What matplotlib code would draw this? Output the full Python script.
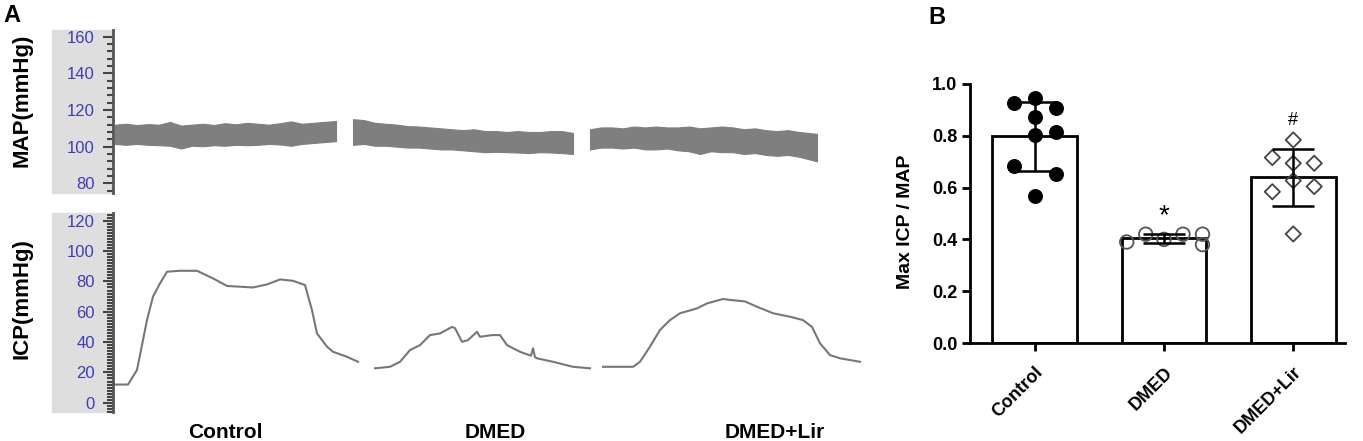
import numpy as np
import matplotlib
matplotlib.use("Agg")
import matplotlib.pyplot as plt
from matplotlib.patches import Rectangle
from matplotlib.ticker import MultipleLocator, FormatStrFormatter

plt.rcParams['font.family'] = ['Liberation Sans', 'DejaVu Sans']

# ---- panel A: MAP traces (upper / lower envelope of the pulsatile band) ----
map_ctrl_t = [2, 13, 24, 35, 46, 57, 68, 79, 90, 101, 112, 123, 134, 145, 156, 167, 178, 189, 200, 211, 223]
map_ctrl_hi = [112, 112.5, 111.8, 112.3, 112, 113.5, 111.5, 112, 112.5, 111.8, 112.8, 112.2, 113, 112.5, 112, 112.8, 113.8, 112.5, 113, 113.5, 114]
map_ctrl_lo = [101.5, 101, 101.5, 101, 100.8, 100.5, 99, 100.5, 100.2, 100.8, 100.5, 101, 100.8, 101, 101.5, 101.2, 100.5, 101.5, 102, 102.5, 103]

map_dmed_t = [240, 251, 262, 273, 284, 295, 306, 317, 328, 339, 350, 361, 372, 383, 394, 405, 416, 427, 438, 449, 460]
map_dmed_hi = [115, 114.5, 113, 112.5, 112, 111.2, 111, 110.5, 110, 109.5, 109, 109.5, 108.5, 108.5, 108, 108.5, 108, 108, 108.5, 108.5, 107.5]
map_dmed_lo = [101, 101.5, 100.5, 100.5, 100, 99.5, 99.5, 99, 98.5, 98.5, 98, 97.5, 97, 97.2, 97, 96.8, 96.5, 97, 96.8, 96.5, 96]

map_lir_t = [477, 488, 499, 510, 521, 532, 543, 554, 565, 576, 587, 598, 609, 620, 631, 642, 653, 664, 675, 686, 704]
map_lir_hi = [109.5, 110.5, 110.5, 110, 111, 110.5, 111, 110.5, 110.5, 111, 110, 110.5, 111, 110.5, 109.5, 110, 109, 108.5, 109, 108, 107]
map_lir_lo = [98.5, 99.5, 99.5, 99, 99.5, 98.5, 98.5, 99, 98, 97.5, 96, 97.5, 97, 97, 96, 96.5, 95.5, 95, 95.5, 94.5, 92]

# ---- panel A: ICP traces ----
icp_ctrl_t = [2, 15, 24, 34, 40, 47, 54, 67, 84, 100, 114, 140, 154, 167, 180, 192, 199, 204, 214, 220, 234, 245]
icp_ctrl = [12, 12, 21.6, 54.5, 70, 78.7, 86.4, 87, 87, 82, 77, 76, 78, 81.3, 80.4, 77.6, 61, 45.7, 37, 33.6, 30.3, 27]

icp_dmed_t = [262, 277, 287, 297, 307, 317, 327, 339, 342, 349, 355, 364, 367, 379, 387, 394, 407, 418, 420, 422, 424, 440, 460, 477]
icp_dmed = [22.7, 23.7, 27, 34.7, 38, 44.6, 45.7, 50, 49.2, 40.2, 41.3, 46.8, 43.5, 44.6, 44.6, 38, 33.6, 31, 35.9, 30, 29.3, 27, 23.7, 22.7]

icp_lir_t = [490, 520, 527, 537, 547, 557, 567, 584, 594, 610, 617, 632, 644, 660, 677, 690, 699, 707, 717, 727, 747]
icp_lir = [23.7, 23.7, 27, 37, 48, 54.5, 59, 62.2, 65.5, 68.4, 67.8, 66.8, 63.3, 59, 56.7, 54.5, 50, 39.2, 31.4, 29.3, 27]

group_names = ["Control", "DMED", "DMED+Lir"]

# ---- panel B: Max ICP / MAP per animal ----
ratio_ctrl = [0.928, 0.947, 0.906, 0.874, 0.803, 0.814, 0.685, 0.653, 0.568]
ratio_dmed = [0.39, 0.42, 0.40, 0.42, 0.42, 0.38]
ratio_lir = [0.784, 0.716, 0.694, 0.694, 0.627, 0.584, 0.604, 0.421]

jit_ctrl = [-1, 0, 1, 0, 0, 1, -1, 1, 0]
jit_dmed = [-0.288, -0.141, 0, 0.147, 0.298, 0.298]
jit_lir = [0, -1, 0, 1, 0, -1, 1, 0]

W, H = 1363, 441
fig = plt.figure(figsize=(W / 100, H / 100), dpi=100)

tick_col = '#3d3db5'
axis_col = '#555555'

# grey label strips behind tick labels
for top, bot in [(30, 193), (213, 412)]:
    fig.patches.append(Rectangle((52 / W, 1 - bot / H), 61 / W, (bot - top) / H,
                                 transform=fig.transFigure, color='#dedede', zorder=-5))

axMAP = fig.add_axes([113 / W, 1 - 193 / H, 750 / W, 163 / H])
axICP = fig.add_axes([113 / W, 1 - 412 / H, 750 / W, 199 / H])

for t, hi, lo in [(map_ctrl_t, map_ctrl_hi, map_ctrl_lo),
                  (map_dmed_t, map_dmed_hi, map_dmed_lo),
                  (map_lir_t, map_lir_hi, map_lir_lo)]:
    axMAP.fill_between(t, lo, hi, color='#7f7f7f', lw=0.8, edgecolor='#7f7f7f')

for t, v in [(icp_ctrl_t, icp_ctrl), (icp_dmed_t, icp_dmed), (icp_lir_t, icp_lir)]:
    axICP.plot(t, v, color='#777777', lw=1.5)

axMAP.set_ylim(74.7, 163.7)
axMAP.yaxis.set_major_locator(MultipleLocator(20))
axMAP.yaxis.set_minor_locator(MultipleLocator(4))
axICP.set_ylim(-6.1, 125.1)
axICP.yaxis.set_major_locator(MultipleLocator(20))
axICP.yaxis.set_minor_locator(MultipleLocator(2))

for ax, lab in [(axMAP, 'MAP(mmHg)'), (axICP, 'ICP(mmHg)')]:
    ax.set_xlim(0, 750)
    ax.patch.set_alpha(0)
    for s in ['top', 'right', 'bottom']:
        ax.spines[s].set_visible(False)
    ax.spines['left'].set_color(axis_col)
    ax.spines['left'].set_linewidth(2)
    ax.set_xticks([])
    ax.tick_params(axis='y', which='major', length=7, width=1.5, color='#444444',
                   labelcolor=tick_col, labelsize=12, pad=6)
    ax.tick_params(axis='y', which='minor', length=4, width=1.5, color='#444444')
    ax.set_ylabel(lab, fontsize=16, fontweight='bold')

axMAP.yaxis.set_label_coords(-(113 - 32) / 750, (193 - 100) / 163)
axICP.yaxis.set_label_coords(-(113 - 32) / 750, (412 - 299) / 199)

for name, xp in zip(group_names, [225, 495, 775]):
    fig.text(xp / W, 1 - 432 / H, name, ha='center', va='center',
             fontsize=15, fontweight='bold')

fig.text(12 / W, 1 - 16 / H, 'A', ha='center', va='center', fontsize=17, fontweight='bold')
fig.text(937 / W, 1 - 18 / H, 'B', ha='center', va='center', fontsize=17, fontweight='bold')

# ---- panel B ----
axB = fig.add_axes([970 / W, 1 - 343 / H, 375 / W, 259 / H])
groups = [ratio_ctrl, ratio_dmed, ratio_lir]
means = [np.mean(g) for g in groups]
sds = [np.std(g, ddof=1) for g in groups]
xpos = np.arange(3)

axB.bar(xpos, means, width=0.656, color='white', edgecolor='black', linewidth=2, zorder=1)
axB.errorbar(xpos, means, yerr=sds, fmt='none', ecolor='black', elinewidth=1.8,
             capsize=15, capthick=1.8, zorder=4)

axB.scatter(0 + np.array(jit_ctrl) * 0.162, ratio_ctrl, s=95, color='black', zorder=3)
axB.scatter(1 + np.array(jit_dmed), ratio_dmed, s=95, facecolor='none',
            edgecolor='#555555', linewidth=1.3, zorder=3)
axB.scatter(2 + np.array(jit_lir) * 0.162, ratio_lir, s=60, marker='D', facecolor='none',
            edgecolor='#444444', linewidth=1.3, zorder=3)

axB.text(1, 0.49, '*', ha='center', va='center', fontsize=20)
axB.text(2, 0.858, '#', ha='center', va='center', fontsize=13)

axB.set_xlim(-0.5, 2.4)
axB.set_ylim(0, 1.0)
axB.yaxis.set_major_locator(MultipleLocator(0.2))
axB.yaxis.set_major_formatter(FormatStrFormatter('%.1f'))
axB.set_xticks(xpos)
axB.set_xticklabels(group_names, rotation=45, ha='right', rotation_mode='anchor')
for s in ['top', 'right']:
    axB.spines[s].set_visible(False)
for s in ['left', 'bottom']:
    axB.spines[s].set_linewidth(2)
axB.tick_params(axis='both', length=6, width=2, labelsize=13, pad=3)
for lab in axB.get_xticklabels() + axB.get_yticklabels():
    lab.set_fontweight('bold')
axB.tick_params(axis='x', pad=9)
axB.set_ylabel('Max ICP / MAP', fontsize=14, fontweight='bold')
axB.yaxis.set_label_coords(-(970 - 914) / 375, (343 - 222) / 259)

fig.savefig('out.png', dpi=100)
